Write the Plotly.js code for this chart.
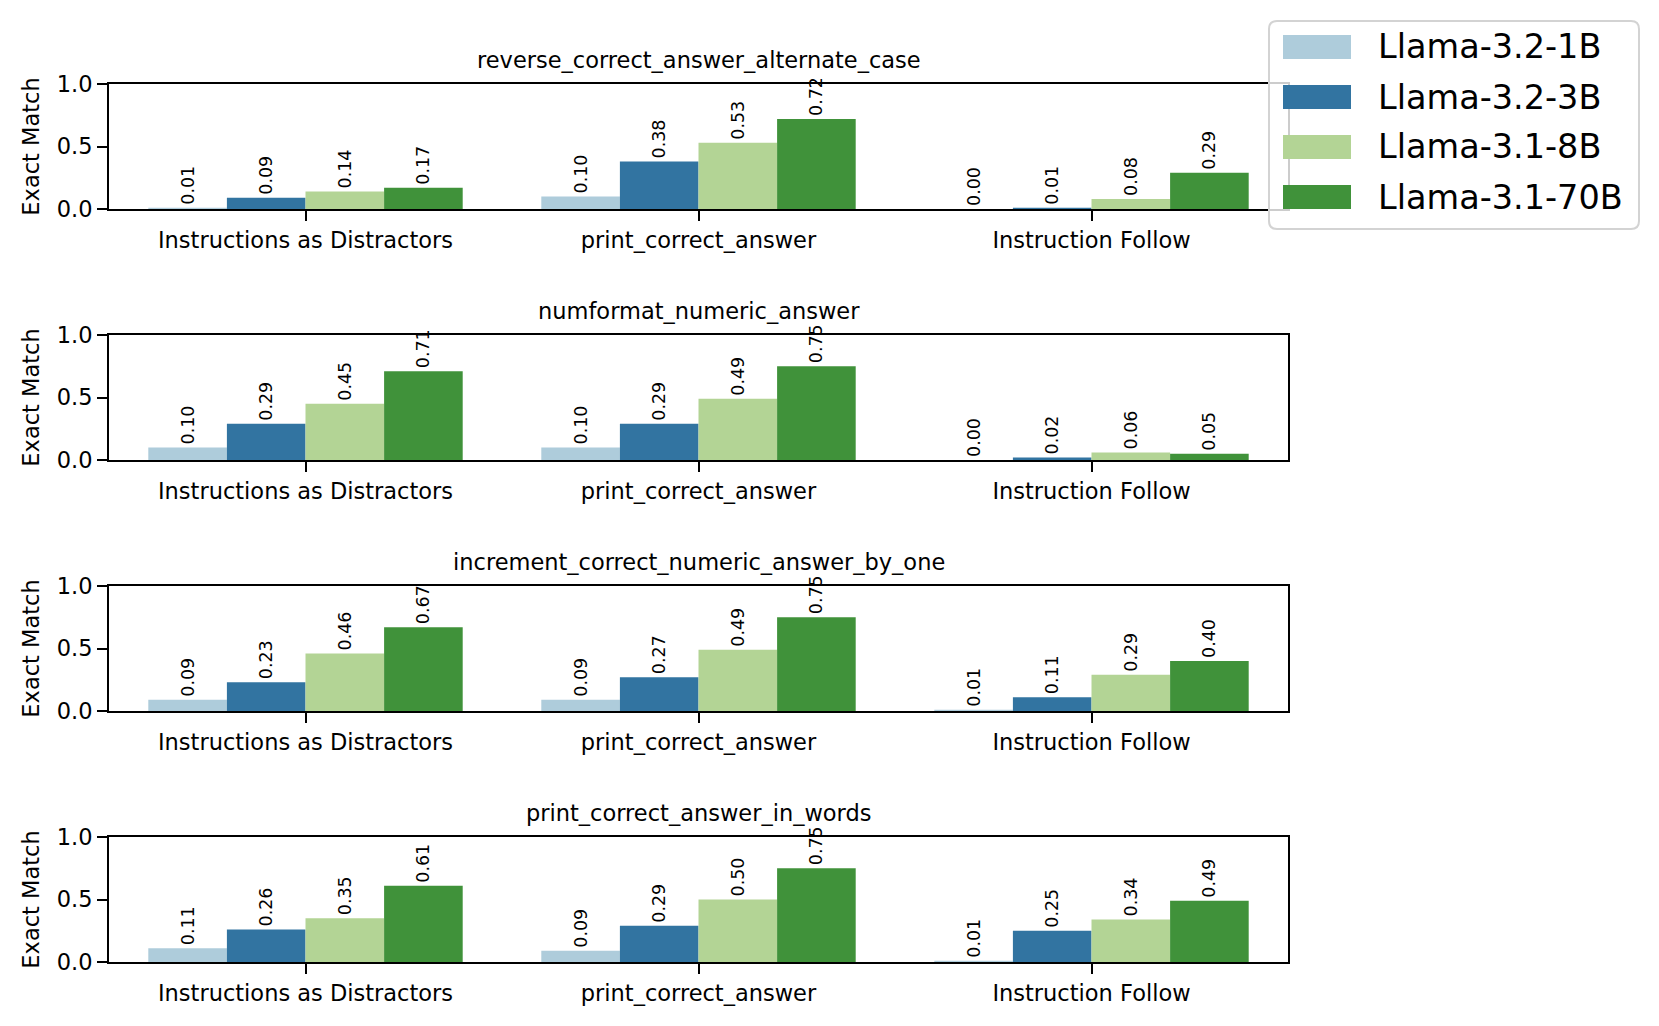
<!DOCTYPE html>
<html>
<head>
<meta charset="utf-8">
<script src="https://cdn.plot.ly/plotly-3.0.1.min.js"></script>
<style>
  html, body { margin: 0; padding: 0; background: #ffffff; }
  #chart { width: 1659px; height: 1026px; }
</style>
</head>
<body>
<div id="chart"></div>
<script>
// ---------------- data ----------------
const categories = ['Instructions as Distractors', 'print_correct_answer', 'Instruction Follow'];
const models = ['Llama-3.2-1B', 'Llama-3.2-3B', 'Llama-3.1-8B', 'Llama-3.1-70B'];
const panelTitles = [
  'reverse_correct_answer_alternate_case',
  'numformat_numeric_answer',
  'increment_correct_numeric_answer_by_one',
  'print_correct_answer_in_words'
];
// rows = models (1B, 3B, 8B, 70B), columns = categories
const reverseAlternateCase = [
  [0.01, 0.10, 0.00],
  [0.09, 0.38, 0.01],
  [0.14, 0.53, 0.08],
  [0.17, 0.72, 0.29]
];
const numformatNumeric = [
  [0.10, 0.10, 0.00],
  [0.29, 0.29, 0.02],
  [0.45, 0.49, 0.06],
  [0.71, 0.75, 0.05]
];
const incrementByOne = [
  [0.09, 0.09, 0.01],
  [0.23, 0.27, 0.11],
  [0.46, 0.49, 0.29],
  [0.67, 0.75, 0.40]
];
const answerInWords = [
  [0.11, 0.09, 0.01],
  [0.26, 0.29, 0.25],
  [0.35, 0.50, 0.34],
  [0.61, 0.75, 0.49]
];
const yTickVals = [0, 0.5, 1.0];
const yTickText = ['0.0', '0.5', '1.0'];
const yLabel = 'Exact Match';

const panels = [reverseAlternateCase, numformatNumeric, incrementByOne, answerInWords];

// ---------------- styles ----------------
const colors = ['#aeccdb', '#3274a1', '#b3d495', '#40923a'];
const W = 1659, H = 1026;
const FONT = 'DejaVu Sans, Noto Sans, sans-serif';
const FS = 22.5;
const X = v => v / W;
const Y = v => 1 - v / H;

const axLeft = 109, axRight = 1288, axHeight = 125;
const axTops = [84, 335, 586, 837];

const traces = [];
const layout = {
  width: W, height: H,
  margin: {l: 0, r: 0, t: 0, b: 0},
  paper_bgcolor: '#ffffff',
  plot_bgcolor: 'rgba(0,0,0,0)',
  barmode: 'group',
  bargap: 0.2,
  bargroupgap: 0,
  showlegend: false,
  font: {family: FONT, color: '#000000', size: FS},
  annotations: [],
  shapes: []
};

panels.forEach((panel, p) => {
  const sfx = p === 0 ? '' : String(p + 1);
  panel.forEach((vals, m) => {
    traces.push({
      type: 'bar',
      name: models[m],
      x: categories,
      y: vals,
      xaxis: 'x' + sfx,
      yaxis: 'y' + sfx,
      marker: {color: colors[m], line: {width: 0}},
      text: vals.map(v => v.toFixed(2)),
      textposition: 'outside',
      textangle: -90,
      constraintext: 'none',
      cliponaxis: false,
      textfont: {family: FONT, size: 17.5, color: '#000000'},
      hoverinfo: 'x+y+name',
      showlegend: p === 0
    });
  });
  const top = axTops[p], bottom = top + axHeight;
  layout['xaxis' + sfx] = {
    domain: [X(axLeft), X(axRight)],
    anchor: 'y' + sfx,
    type: 'category',
    categoryorder: 'array',
    categoryarray: categories,
    range: [-0.5, 2.5],
    showline: true, mirror: true, linecolor: '#000000', linewidth: 2,
    ticks: 'outside', ticklen: 10, tickwidth: 2, tickcolor: '#000000',
    tickangle: 0,
    tickfont: {family: FONT, size: FS, color: '#000000'},
    showgrid: false, zeroline: false, fixedrange: true
  };
  layout['yaxis' + sfx] = {
    domain: [Y(bottom), Y(top)],
    anchor: 'x' + sfx,
    range: [0, 1],
    tickvals: yTickVals,
    ticktext: yTickText,
    showline: true, mirror: true, linecolor: '#000000', linewidth: 2,
    ticks: 'outside', ticklen: 10, tickwidth: 2, tickcolor: '#000000',
    tickfont: {family: FONT, size: FS, color: '#000000'},
    showgrid: false, zeroline: false, fixedrange: true,
    title: {text: yLabel, font: {family: FONT, size: FS, color: '#000000'}, standoff: 11}
  };
  layout.annotations.push({
    text: panelTitles[p],
    xref: 'paper', yref: 'paper',
    x: X((axLeft + axRight) / 2), y: Y(top),
    xanchor: 'center', yanchor: 'middle', yshift: 24,
    showarrow: false,
    font: {family: FONT, size: FS, color: '#000000'}
  });
});

// ---------------- legend (drawn in paper space) ----------------
const lg = {x0: 1269, x1: 1639, y0: 21, y1: 229, r: 8};
const rr = `M ${X(lg.x0 + lg.r)},${Y(lg.y0)} L ${X(lg.x1 - lg.r)},${Y(lg.y0)} ` +
  `Q ${X(lg.x1)},${Y(lg.y0)} ${X(lg.x1)},${Y(lg.y0 + lg.r)} L ${X(lg.x1)},${Y(lg.y1 - lg.r)} ` +
  `Q ${X(lg.x1)},${Y(lg.y1)} ${X(lg.x1 - lg.r)},${Y(lg.y1)} L ${X(lg.x0 + lg.r)},${Y(lg.y1)} ` +
  `Q ${X(lg.x0)},${Y(lg.y1)} ${X(lg.x0)},${Y(lg.y1 - lg.r)} L ${X(lg.x0)},${Y(lg.y0 + lg.r)} ` +
  `Q ${X(lg.x0)},${Y(lg.y0)} ${X(lg.x0 + lg.r)},${Y(lg.y0)} Z`;
layout.shapes.push({
  type: 'path', path: rr, xref: 'paper', yref: 'paper', layer: 'above',
  fillcolor: 'rgba(255,255,255,0.8)', line: {color: '#d3d3d3', width: 2}
});
const rowCenters = [47, 97, 147, 197];
models.forEach((name, m) => {
  const cy = rowCenters[m];
  layout.shapes.push({
    type: 'rect', xref: 'paper', yref: 'paper', layer: 'above',
    x0: X(1283), x1: X(1351), y0: Y(cy + 12), y1: Y(cy - 12),
    fillcolor: colors[m], line: {width: 0}
  });
  layout.annotations.push({
    text: name, xref: 'paper', yref: 'paper',
    x: X(1376), y: Y(cy), xanchor: 'left', yanchor: 'middle',
    showarrow: false,
    font: {family: FONT, size: 33.5, color: '#000000'}
  });
});

Plotly.newPlot('chart', traces, layout, {staticPlot: true, displayModeBar: false});
</script>
</body>
</html>
